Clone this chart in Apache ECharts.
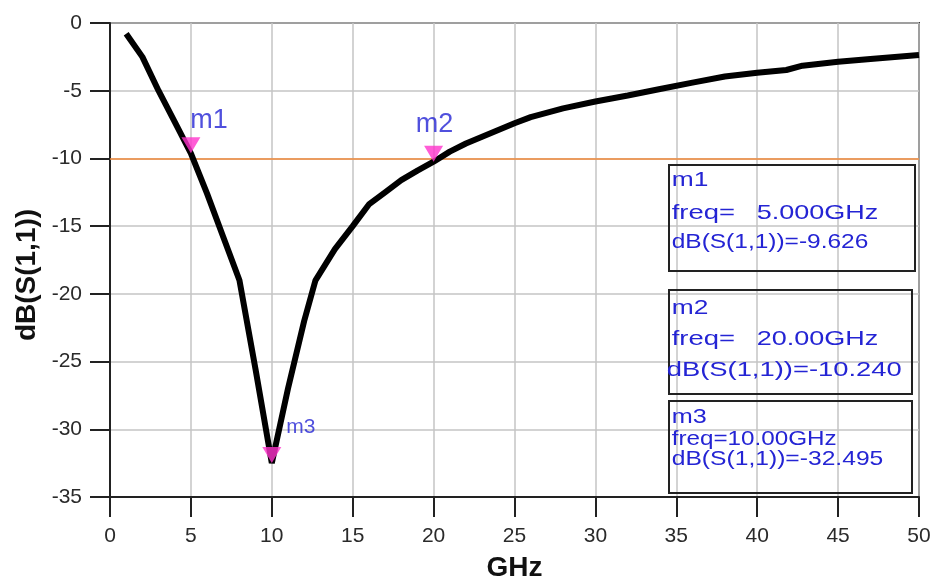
<!DOCTYPE html>
<html>
<head>
<meta charset="utf-8">
<script src="https://cdn.jsdelivr.net/npm/echarts@6/dist/echarts.min.js"></script>
<style>
html,body{margin:0;padding:0;background:#fff;}
#chart{width:935px;height:581px;}
</style>
</head>
<body>
<div id="chart"></div>
<script>
// ---- data ----
const freqGHz = [1,2,3,4,5,6,7,8,9,10,11,12,12.7,13.9,15,16,17,18,19,20,21,22,23,24,25,26,28,30,32,34,36,38,40,41.8,42.8,45,47,50];
const dbS11   = [-0.8,-2.5,-5.0,-7.3,-9.626,-12.6,-15.8,-19.0,-25.6,-32.495,-27.0,-22.0,-19.0,-16.7,-15.0,-13.4,-12.5,-11.6,-10.9,-10.24,-9.5,-8.9,-8.4,-7.9,-7.4,-6.95,-6.3,-5.8,-5.35,-4.87,-4.4,-3.95,-3.67,-3.47,-3.15,-2.86,-2.65,-2.36];
const markerNames = ['m1','m2','m3'];
const markerFreq  = [5, 20, 10];
const markerDb    = [-9.626, -10.240, -32.495];
const refLevel    = -10;
const xTitle = 'GHz';
const yTitle = 'dB(S(1,1))';

const BLUE = '#2424d4';
const chart = echarts.init(document.getElementById('chart'));

const lineData = freqGHz.map((f,i)=>[f, dbS11[i]]);

// label placement per marker (styles)
const markerLabelCfg = [
  {position:'top', distance:3, offset:[18,0], fontSize:27},
  {position:'top', distance:8, offset:[1,0], fontSize:27},
  {position:'right', distance:5, offset:[0,-28], fontSize:21}
];
const markerData = markerNames.map((n,i)=>({
  name:n, value:[markerFreq[i], markerDb[i]],
  label:Object.assign({show:true, formatter:n, color:BLUE, fontFamily:'Liberation Sans'}, markerLabelCfg[i])
}));

// legend text helpers
const mctx = document.createElement('canvas').getContext('2d');
function fit(str, font, left, right){ mctx.font = font; return (right-left)/mctx.measureText(str).width; }
const LF = '21px "Liberation Sans"';
function txt(str, left, right, cy){
  return {type:'text', x:left, y:cy, scaleX:fit(str, LF, left, right), z:20,
    style:{text:str, font:LF, fill:BLUE, align:'left', verticalAlign:'middle'}};
}
function fmtF(v){ return v.toPrecision(4)+'GHz'; }
function fmtD(v){ return 'dB(S(1,1))='+v.toFixed(3); }

const boxes = [
  {x:669,y:165,w:246,h:106},
  {x:669,y:290,w:243,h:104},
  {x:669,y:401,w:243,h:92}
];
const graphics = [];
boxes.forEach(b=>graphics.push({type:'rect', z:19, shape:{x:b.x,y:b.y,width:b.w,height:b.h}, style:{fill:'none', stroke:'#222', lineWidth:2}}));
// box 1
graphics.push(txt(markerNames[0], 671.7, 708.3, 180.5));
graphics.push(txt('freq=', 671.7, 735, 213.5));
graphics.push(txt(fmtF(markerFreq[0]), 756.7, 878.3, 213.5));
graphics.push(txt(fmtD(markerDb[0]), 671.7, 868.3, 242.5));
// box 2
graphics.push(txt(markerNames[1], 671.7, 708.3, 308.7));
graphics.push(txt('freq=', 671.7, 735, 339.7));
graphics.push(txt(fmtF(markerFreq[1]), 756.7, 878.3, 339.7));
graphics.push(txt(fmtD(markerDb[1]), 666.7, 901.7, 370.5));
// box 3
graphics.push(txt(markerNames[2], 671.7, 706.7, 417));
graphics.push(txt('freq='+fmtF(markerFreq[2]), 671.7, 836.7, 439.7));
graphics.push(txt(fmtD(markerDb[2]), 671.7, 883.3, 459));
// y axis title
graphics.push({type:'text', x:27.5, y:275, rotation:Math.PI/2, z:20,
  style:{text:yTitle, font:'bold 28px "Liberation Sans"', fill:'#111', align:'center', verticalAlign:'middle'}});

const axisCommon = {
  axisLine:{show:true, onZero:false, lineStyle:{color:'#222', width:2}},
  axisTick:{show:true, length:20, lineStyle:{color:'#222', width:2}},
  splitLine:{show:true, lineStyle:{color:'#c4c4c4', width:1.5}},
  axisLabel:{fontSize:21, color:'#2a2a2a', fontFamily:'Liberation Sans'}
};

chart.setOption({
  animation:false,
  backgroundColor:'#fff',
  grid:{left:110, top:23, right:16, bottom:84, containLabel:false, outerBoundsMode:'none',
    show:true, borderColor:'#333', borderWidth:2, backgroundColor:'transparent'},
  xAxis:Object.assign({}, axisCommon, {
    type:'value', min:0, max:50, interval:5,
    name:xTitle, nameLocation:'middle', nameGap:57,
    nameTextStyle:{fontSize:28, fontWeight:'bold', color:'#111', fontFamily:'Liberation Sans'},
    axisLabel:Object.assign({}, axisCommon.axisLabel, {margin:29})
  }),
  yAxis:Object.assign({}, axisCommon, {
    type:'value', min:-35, max:0, interval:5,
    axisLabel:Object.assign({}, axisCommon.axisLabel, {margin:28})
  }),
  graphic:graphics,
  series:[
    {type:'line', data:lineData, showSymbol:false, symbol:'none', smooth:false, z:3,
      lineStyle:{color:'#000', width:6},
      markLine:{silent:true, symbol:'none', label:{show:false}, z:2,
        lineStyle:{color:'#f28a3a', width:1.5, type:'solid'},
        data:[{yAxis:refLevel}]}
    },
    {type:'scatter', data:markerData, z:5,
      symbol:'path://M0,0 L20,0 L10,16 Z', symbolSize:[19,16], symbolOffset:[0,'-50%'],
      itemStyle:{color:'#ff33cc'}
    }
  ]
});
</script>
</body>
</html>
